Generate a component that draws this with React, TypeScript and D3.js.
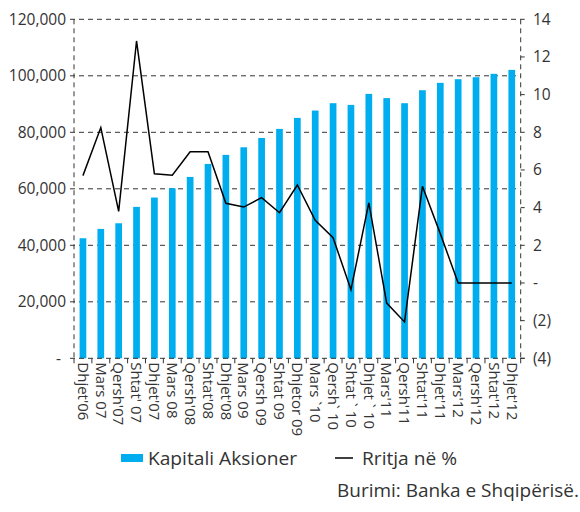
import React from "react";
import * as d3 from "d3";

const categories = [
  "Dhjet'06", "Mars 07", "Qersh'07", "Shtat' 07", "Dhjet'07", "Mars 08", "Qersh'08", "Shtat'08",
  "Dhjet'08", "Mars 09", "Qersh 09", "Shtat 09", "Dhjetor 09", "Mars `10", "Qersh` 10", "Shtat ` 10",
  "Dhjet ` 10", "Mars'11", "Qersh'11", "Shtat'11", "Dhjet'11", "Mars'12", "Qersh'12", "Shtat'12", "Dhjet'12",
];
const kapitali = [
  42500, 45800, 47800, 53600, 56900, 60200, 64200, 68800, 72000, 74700, 78000, 81200, 85100,
  87700, 90300, 89700, 93600, 92100, 90300, 94900, 97500, 98800, 99500, 100700, 102100,
];
const rritja = [
  5.7, 8.25, 3.8, 12.85, 5.8, 5.72, 6.97, 6.97, 4.23, 4.03, 4.53, 3.73, 5.2,
  3.33, 2.4, -0.36, 4.25, -1.07, -2.07, 5.13, 2.62, 0, 0, 0, 0,
];
const leftTicks = [0, 20000, 40000, 60000, 80000, 100000, 120000];
const rightTicks = [-4, -2, 0, 2, 4, 6, 8, 10, 12, 14];

const FONT = "'Open Sans', Lato, sans-serif";
const W = 580, H = 512;
const left = 74, right = 520.7, top = 19.3, bottom = 358.3;

export default function App() {
  const x = d3.scaleBand<string>().domain(categories).range([left, right]).padding(0);
  const yL = d3.scaleLinear().domain([0, 120000]).range([bottom, top]);
  const yR = d3.scaleLinear().domain([-4, 14]).range([bottom, top]);
  const bw = 6.7;
  const line = d3.line<number>()
    .x((_, i) => (x(categories[i]) as number) + x.bandwidth() / 2)
    .y((d) => yR(d));
  const fmtL = (v: number) => (v === 0 ? "-" : d3.format(",")(v));
  const fmtR = (v: number) => (v === 0 ? "-" : v < 0 ? `(${-v})` : `${v}`);
  const dash = "5,4";
  return (
    <svg width={W} height={H} style={{ position: "absolute", left: 0, top: 0, background: "#fff" }} fontFamily={FONT}>
      {leftTicks.filter((t) => t > 0).map((t) => (
        <line key={t} x1={left - 4} x2={right} y1={yL(t)} y2={yL(t)} stroke="#333" strokeWidth={1} strokeDasharray={dash} />
      ))}
      {kapitali.map((v, i) => (
        <rect key={i} x={(x(categories[i]) as number) + x.bandwidth() / 2 - bw / 2} y={yL(v)} width={bw} height={bottom - yL(v)} fill="#00AEEF" />
      ))}
      <line x1={left} x2={left} y1={top} y2={bottom} stroke="#333" strokeDasharray={dash} />
      <line x1={right} x2={right} y1={top} y2={bottom} stroke="#333" strokeDasharray={dash} />
      <line x1={left - 4} x2={right + 4} y1={bottom} y2={bottom} stroke="#333" strokeDasharray={dash} />
      {categories.map((c, i) => (
        <line key={"t" + i} x1={x(c) as number} x2={x(c) as number} y1={bottom} y2={bottom + 5} stroke="#333" />
      ))}
      <line x1={right} x2={right} y1={bottom} y2={bottom + 5} stroke="#333" />
      {rightTicks.map((t) => (
        <line key={"r" + t} x1={right} x2={right + 4} y1={yR(t)} y2={yR(t)} stroke="#333" />
      ))}
      <path d={line(rritja) as string} fill="none" stroke="#000" strokeWidth={1.5} />
      {leftTicks.map((t) => (
        <text key={"l" + t} x={t === 0 ? 61 : 66} y={yL(t)} dy="0.35em" textAnchor="end" fontSize={15.5} fill="#333">{fmtL(t)}</text>
      ))}
      {rightTicks.map((t) => (
        <text key={"rl" + t} x={533} y={yR(t)} dy="0.35em" textAnchor="start" fontSize={15.5} fill="#333">{fmtR(t)}</text>
      ))}
      {categories.map((c) => {
        const cx = (x(c) as number) + x.bandwidth() / 2;
        return (
          <text key={"x" + c} transform={`translate(${cx},${bottom + 4}) rotate(90)`} dy="0.35em" textAnchor="start" fontSize={15} fill="#333">{c}</text>
        );
      })}
      <rect x={121} y={454} width={22} height={8} fill="#00AEEF" />
      <text x={148} y={465} fontSize={17.5} fill="#333" textLength={149} lengthAdjust="spacingAndGlyphs">Kapitali Aksioner</text>
      <line x1={335} x2={353} y1={458} y2={458} stroke="#000" strokeWidth={1.5} />
      <text x={362} y={465} fontSize={17.5} fill="#333" textLength={95} lengthAdjust="spacingAndGlyphs">Rritja në %</text>
      <text x={337} y={497} fontSize={17.5} fill="#333" textLength={242} lengthAdjust="spacingAndGlyphs">Burimi: Banka e Shqipërisë.</text>
    </svg>
  );
}
